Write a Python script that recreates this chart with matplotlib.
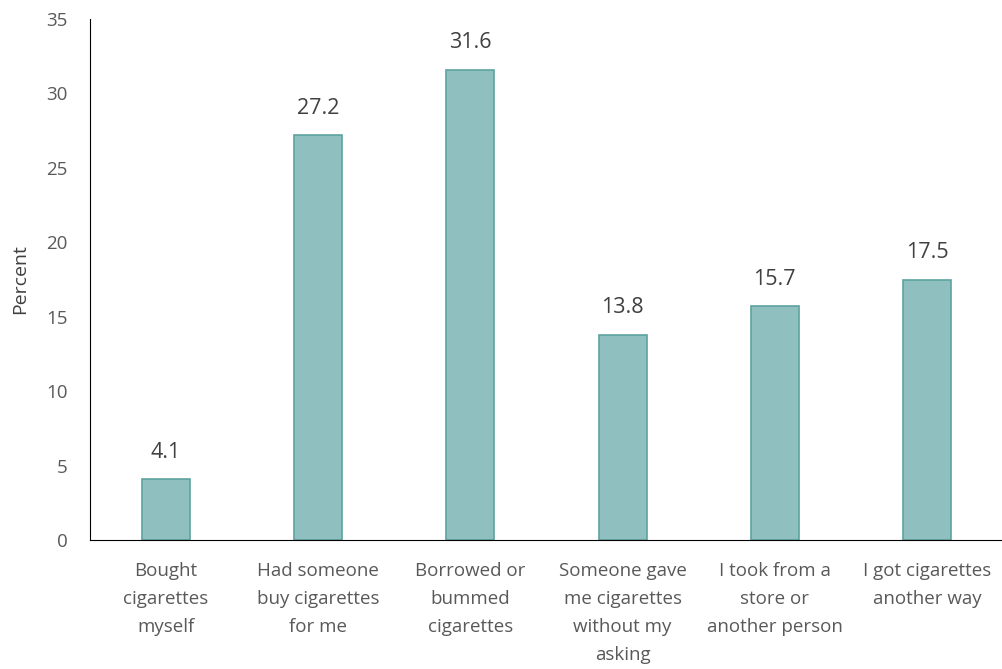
import matplotlib
matplotlib.use("Agg")
import matplotlib.pyplot as plt

categories = ["Bought\ncigarettes\nmyself", "Had someone\nbuy cigarettes\nfor me",
              "Borrowed or\nbummed\ncigarettes", "Someone gave\nme cigarettes\nwithout my\nasking",
              "I took from a\nstore or\nanother person", "I got cigarettes\nanother way"]
values = [4.1, 27.2, 31.6, 13.8, 15.7, 17.5]
yticks = [0, 5, 10, 15, 20, 25, 30, 35]

plt.rcParams['font.family'] = ['Open Sans', 'DejaVu Sans']
fig = plt.figure(figsize=(10.03, 6.69), dpi=100)
ax = fig.add_axes([90/1003, 129/669, 913/1003, 521/669])
x = range(len(categories))
ax.bar(x, values, width=0.315, color="#8FBFBE", edgecolor="#5DA39F", linewidth=1.2)
for xi, v in zip(x, values):
    ax.text(xi, v + 1.1, f"{v}", ha="center", va="bottom", fontsize=15.5, color="#404040")
ax.set_xlim(-0.5, len(categories) - 0.5)
ax.set_ylim(0, 35)
ax.set_yticks(yticks)
ax.set_xticks(list(x))
ax.set_xticklabels(categories, fontsize=13.5, color="#404040", linespacing=1.72)
ax.tick_params(axis="both", length=0, colors="#595959", labelsize=13.5)
ax.tick_params(axis="x", pad=16)
ax.tick_params(axis="y", pad=16)
for s in ["top", "right"]:
    ax.spines[s].set_visible(False)
ax.spines["left"].set_color("black")
ax.spines["bottom"].set_color("black")
ax.set_ylabel("Percent", fontsize=14, color="#404040", labelpad=12)
fig.savefig("out.png", dpi=100)
